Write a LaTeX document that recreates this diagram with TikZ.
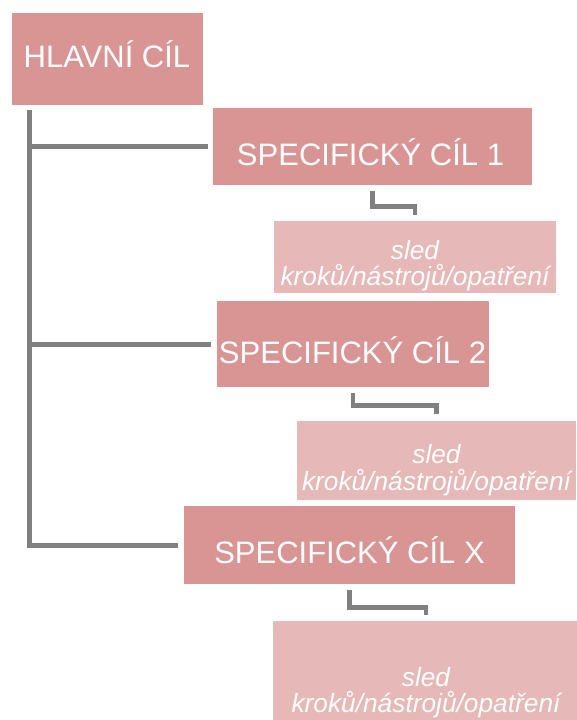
\documentclass[tikz,border=0pt]{standalone}
\usepackage{fontspec}
\setmainfont{Liberation Sans}
\definecolor{dpink}{HTML}{D99594}
\definecolor{lpink}{HTML}{E6B8B7}
\definecolor{lgray}{HTML}{808080}
\begin{document}
\begin{tikzpicture}[x=1pt,y=-1pt,
  goalbox/.style={rectangle, fill=dpink, draw=none, inner sep=0pt, anchor=north west},
  stepbox/.style={rectangle, fill=lpink, draw=none, inner sep=0pt, anchor=north west},
  goaltext/.style={text=white, inner sep=0pt, anchor=base, font=\fontsize{31}{34}\selectfont},
  steptext/.style={text=white, inner sep=0pt, anchor=base, font=\fontsize{26.3}{27}\selectfont\itshape},
  trunkline/.style={draw=lgray, line width=5pt},
  elbowline/.style={draw=lgray, line width=4.5pt}]
\useasboundingbox (0,0) rectangle (576,720);
\fill[white] (0,0) rectangle (576,720);

% boxes
\node[goalbox, minimum width=191pt, minimum height=92pt] (HC) at (12,13) {};
\node[goalbox, minimum width=319pt, minimum height=77pt] (SC1) at (213,108) {};
\node[stepbox, minimum width=282pt, minimum height=72pt] (S1) at (274,221) {};
\node[goalbox, minimum width=272pt, minimum height=86pt] (SC2) at (217,301) {};
\node[stepbox, minimum width=279pt, minimum height=79pt] (S2) at (297,421) {};
\node[goalbox, minimum width=331pt, minimum height=78pt] (SCX) at (184,506) {};
\node[stepbox, minimum width=306pt, minimum height=120pt] (S3) at (273,621) {};

% texts
\node[goaltext] (tHC) at (107,67) {HLAVNÍ CÍL};
\node[goaltext] (tSC1) at (370.5,165) {SPECIFICKÝ CÍL 1};
\node[goaltext] (tSC2) at (352.5,363) {SPECIFICKÝ CÍL 2};
\node[goaltext] (tSCX) at (349.5,563) {SPECIFICKÝ CÍL X};

\node[steptext] (tS1a) at (415,259) {sled};
\node[steptext] (tS1b) at (415,285) {kroků/nástrojů/opatření};
\node[steptext] (tS2a) at (436.5,463) {sled};
\node[steptext] (tS2b) at (436.5,490) {kroků/nástrojů/opatření};
\node[steptext] (tS3a) at (426,686) {sled};
\node[steptext] (tS3b) at (426,712) {kroků/nástrojů/opatření};

% trunk and branches
\coordinate (T) at (29,110);
\draw[trunkline] (T) |- ([xshift=-6pt]SCX.west);
\draw[trunkline] (T |- SC1.west) -- ([xshift=-5pt]SC1.west);
\draw[trunkline] (T |- SC2.west) -- ([xshift=-6pt]SC2.west);

% elbows
\draw[elbowline] ([yshift=-6pt]SC1.south) -- ++(0,15) -| ([yshift=6pt]S1.north);
\draw[elbowline] ([yshift=-6pt]SC2.south) -- ++(0,12) -| ([yshift=7pt]S2.north);
\draw[elbowline] ([yshift=-6pt]SCX.south) -- ++(0,17) -| ([yshift=6pt]S3.north);
\end{tikzpicture}
\end{document}
